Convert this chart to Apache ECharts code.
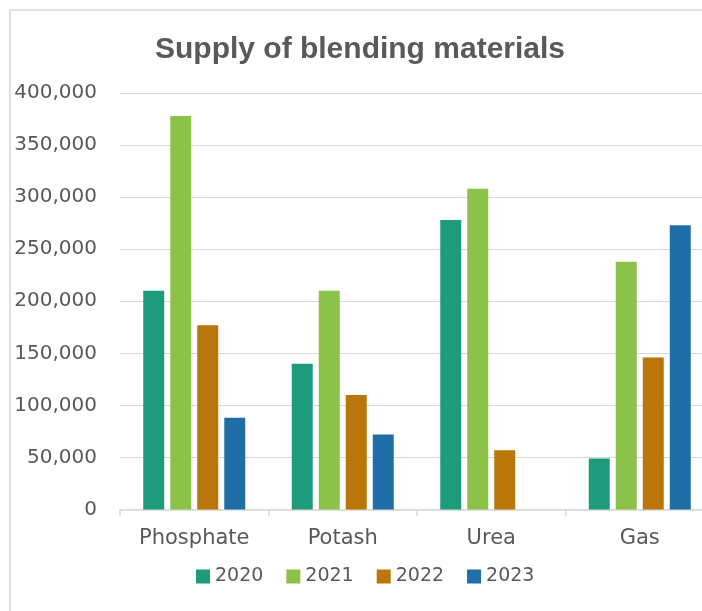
<!DOCTYPE html>
<html>
<head>
<meta charset="utf-8">
<script src="https://cdn.jsdelivr.net/npm/echarts@6/dist/echarts.min.js"></script>
<style>
  html, body { margin: 0; padding: 0; background: #fff; overflow: hidden; }
  #chart { width: 720px; height: 611px; }
</style>
</head>
<body>
<div id="chart"></div>
<script>
const categories = ['Phosphate', 'Potash', 'Urea', 'Gas'];
const years = ['2020', '2021', '2022', '2023'];
const values2020 = [210000, 140000, 278000, 49000];
const values2021 = [378000, 210000, 308000, 238000];
const values2022 = [177000, 110000, 57000, 146000];
const values2023 = [88000, 72000, null, 273000];
const colors = ['#1e9b7a', '#8cc14a', '#ba760b', '#1f6ea8'];

const seriesValues = [values2020, values2021, values2022, values2023];
const textColor = '#595959';
const fontFamily = '"DejaVu Sans", sans-serif';

// the plot runs past the right edge of the 702px window, like the cropped original
const chartBox = echarts.init(document.getElementById('chart'));

const option = {
  animation: false,
  color: colors,
  title: {
    text: 'Supply of blending materials',
    left: 'center',
    top: 30,
    textStyle: {
      color: textColor,
      fontSize: 30,
      fontWeight: 'bold',
      fontFamily: '"Liberation Sans", Arial, sans-serif',
    },
  },
  legend: {
    data: years,
    left: 196,
    top: 567,
    padding: 0,
    icon: 'rect',
    itemWidth: 14,
    itemHeight: 14,
    itemGap: 23,
    textStyle: {
      color: textColor,
      fontSize: 19,
      fontFamily: fontFamily,
    },
  },
  graphic: [
    {
      type: 'rect',
      shape: { x: 10, y: 10, width: 740, height: 620 },
      style: { fill: 'none', stroke: '#d9d9d9', lineWidth: 1.5 },
      silent: true,
      z: -1,
    },
  ],
  grid: {
    left: 120,
    right: 6,
    top: 93,
    bottom: 101.5,
    containLabel: false,
  },
  xAxis: {
    type: 'category',
    data: categories,
    axisLine: { lineStyle: { color: '#d9d9d9', width: 1.5 } },
    axisTick: { show: true, length: 7, lineStyle: { color: '#d9d9d9', width: 1.5 } },
    axisLabel: {
      color: textColor,
      fontSize: 21,
      fontFamily: fontFamily,
      margin: 19,
    },
  },
  yAxis: {
    type: 'value',
    min: 0,
    max: 400000,
    interval: 50000,
    axisLine: { show: false },
    axisTick: { show: false },
    splitLine: { lineStyle: { color: '#d9d9d9', width: 1.2 } },
    axisLabel: {
      color: textColor,
      fontSize: 20,
      fontFamily: fontFamily,
      margin: 23,
      formatter: (v) => v.toLocaleString('en-US'),
    },
  },
  series: years.map((year, i) => ({
    name: year,
    type: 'bar',
    data: seriesValues[i],
    barWidth: 21,
    barGap: '28.6%',
    itemStyle: { color: colors[i] },
  })),
};

chartBox.setOption(option);
</script>
</body>
</html>
